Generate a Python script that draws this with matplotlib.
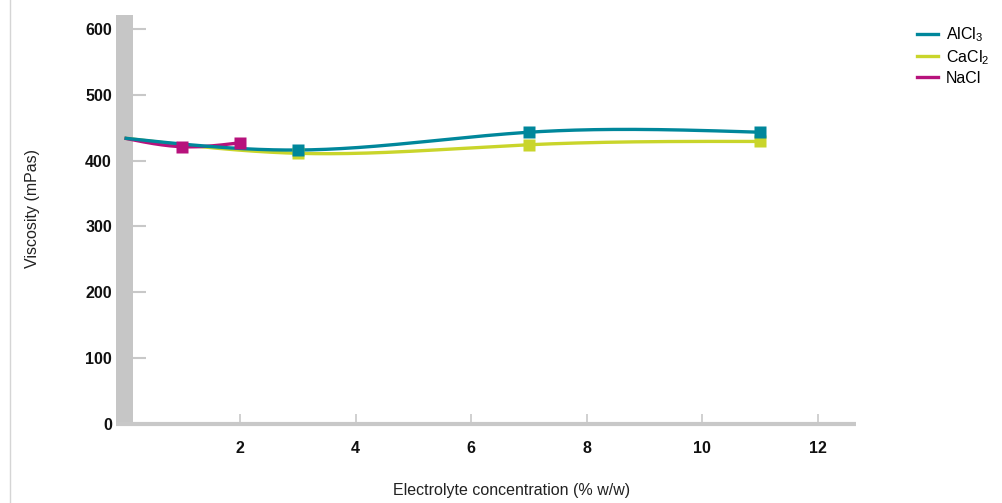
import numpy as np
import matplotlib
matplotlib.use("Agg")
from matplotlib import pyplot as plt
from matplotlib.lines import Line2D
from matplotlib.patches import Rectangle
import matplotlib.transforms as mtransforms

plt.rcParams['font.family'] = ['Liberation Sans', 'DejaVu Sans']
plt.rcParams['mathtext.default'] = 'regular'

# data
conc_alcl3 = [0, 3, 7, 11]
visc_alcl3 = [434, 416, 443, 443]
conc_cacl2 = [0, 3, 7, 11]
visc_cacl2 = [434, 411, 424, 429]
conc_nacl = [0, 1, 2]
visc_nacl = [434, 421, 427]

series_names = [r'AlCl$_3$', r'CaCl$_2$', 'NaCl']
series_colors = ['#00879b', '#c9d52b', '#b7127c']
y_ticks = [0, 100, 200, 300, 400, 500, 600]
x_ticks = [2, 4, 6, 8, 10, 12]


def natural_spline(xs, ys, n=300):
    # smooth curve through the points (natural cubic spline)
    x = np.asarray(xs, float)
    y = np.asarray(ys, float)
    k = len(x)
    h = np.diff(x)
    A = np.zeros((k, k))
    b = np.zeros(k)
    A[0, 0] = A[-1, -1] = 1
    for i in range(1, k - 1):
        A[i, i - 1] = h[i - 1]
        A[i, i] = 2 * (h[i - 1] + h[i])
        A[i, i + 1] = h[i]
        b[i] = 6 * ((y[i + 1] - y[i]) / h[i] - (y[i] - y[i - 1]) / h[i - 1])
    m = np.linalg.solve(A, b)
    t = np.linspace(x[0], x[-1], n)
    idx = np.clip(np.searchsorted(x, t) - 1, 0, k - 2)
    x0, x1 = x[idx], x[idx + 1]
    hh = x1 - x0
    a = (x1 - t) / hh
    c = (t - x0) / hh
    s = a * y[idx] + c * y[idx + 1] + ((a ** 3 - a) * m[idx] + (c ** 3 - c) * m[idx + 1]) * hh ** 2 / 6
    return t, s


def main():
    fig = plt.figure(figsize=(10.02, 5.03), dpi=100)
    W, H = 1002, 503
    left, right, top, bottom = 116, 856, 15, 424
    ax = fig.add_axes([left / W, 1 - bottom / H, (right - left) / W, (bottom - top) / H])

    xmin, xmax = -0.147, 12.66
    ax.set_xlim(xmin, xmax)
    ax.set_ylim(0, 621)

    for s in ['top', 'right', 'left']:
        ax.spines[s].set_visible(False)
    ax.spines['bottom'].set_color('#c8c8c8')
    ax.spines['bottom'].set_linewidth(3)
    ax.spines['bottom'].set_zorder(1)
    ax.spines['bottom'].set_capstyle('butt')

    # gray bar on the left
    ax.add_patch(Rectangle((xmin, 0), 0.147 - xmin, 621, facecolor='#c6c6c6',
                           edgecolor='none', zorder=0, clip_on=False))

    # y tick marks drawn to the right of the bar
    trans = mtransforms.blended_transform_factory(ax.transAxes, ax.transData)
    ax.hlines(y_ticks[1:], 17 / 740, 30 / 740, transform=trans, color='#c8c8c8', lw=1.5, zorder=1)

    ax.set_yticks(y_ticks)
    ax.tick_params(axis='y', length=0, pad=3)
    ax.set_xticks(x_ticks)
    ax.tick_params(axis='x', direction='in', length=7.5, width=1.2, color='#c8c8c8', pad=12)
    for lab in ax.get_xticklabels() + ax.get_yticklabels():
        lab.set_fontweight('bold')
        lab.set_fontsize(11.5)
        lab.set_color('#111111')

    xs_all = [conc_alcl3, conc_cacl2, conc_nacl]
    ys_all = [visc_alcl3, visc_cacl2, visc_nacl]
    order = [1, 2, 0]
    for i in order:
        t, s = natural_spline(xs_all[i], ys_all[i])
        ax.plot(t, s, color=series_colors[i], lw=2.4, zorder=3, solid_capstyle='butt')
    for i in order:
        ax.plot(xs_all[i][1:], ys_all[i][1:], ls='none', marker='s', ms=8.5,
                color=series_colors[i], mec='none', zorder=4)

    fig.text(33 / W, 1 - 209 / H, 'Viscosity (mPas)', rotation=90, ha='center', va='center',
             fontsize=11.5, color='#222222')
    fig.text(512 / W, 1 - 490 / H, 'Electrolyte concentration (% w/w)', ha='center', va='center',
             fontsize=11.5, color='#222222')

    # thin line at the far left
    fig.add_artist(Line2D([10 / W, 10 / W], [0, 1], color='#d5d5d5', lw=1))

    handles = [Line2D([0], [0], color=c, lw=2.4) for c in series_colors]
    fig.legend(handles, series_names, loc='upper left', bbox_to_anchor=(911 / W, 1 - 19 / H),
               frameon=False, fontsize=11.5, handlelength=1.3, handletextpad=0.5,
               labelspacing=0.25, borderaxespad=0)

    fig.savefig('out.png', dpi=100)


if __name__ == "__main__":
    main()
